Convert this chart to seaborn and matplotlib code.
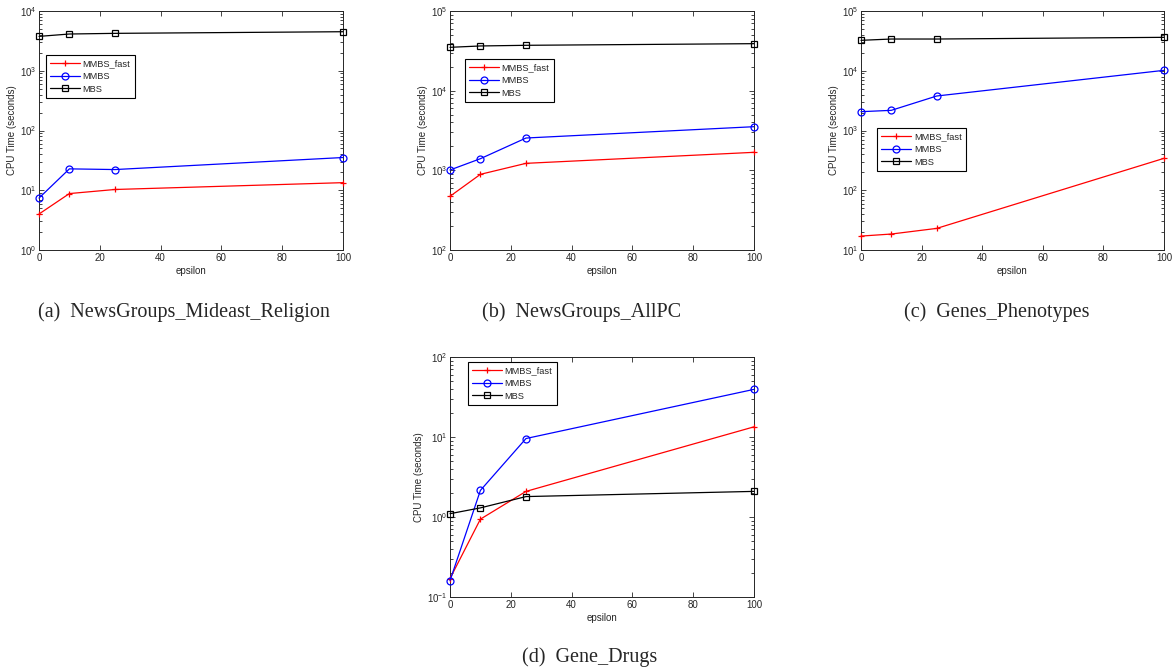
import numpy as np
import pandas as pd
import seaborn as sns
import matplotlib.pyplot as plt
from matplotlib.ticker import LogLocator, NullFormatter

# Data
epsilon = [0, 10, 25, 100]

mideast_fast = [4.0, 8.8, 10.3, 13.4]
mideast_mmbs = [7.4, 22.8, 22.2, 35.3]
mideast_mbs = [3760, 4120, 4225, 4500]

allpc_fast = [472, 891, 1224, 1683]
allpc_mmbs = [1010, 1400, 2545, 3530]
allpc_mbs = [35000, 36400, 37100, 38900]

pheno_fast = [17.1, 18.5, 23.0, 342]
pheno_mmbs = [2065, 2175, 3780, 10160]
pheno_mbs = [32300, 33960, 33960, 36250]

drugs_fast = [0.17, 0.94, 2.09, 13.4]
drugs_mmbs = [0.16, 2.15, 9.57, 39.4]
drugs_mbs = [1.10, 1.30, 1.80, 2.09]

captions = ['(a)  NewsGroups_Mideast_Religion', '(b)  NewsGroups_AllPC',
            '(c)  Genes_Phenotypes', '(d)  Gene_Drugs']

sns.set_style('ticks')
plt.rcParams['font.family'] = ['Liberation Sans', 'DejaVu Sans']
plt.rcParams['mathtext.fontset'] = 'custom'
plt.rcParams['mathtext.rm'] = 'Liberation Sans'
plt.rcParams['mathtext.it'] = 'Liberation Sans'

W, H = 1176, 668
fig = plt.figure(figsize=(W / 100, H / 100), dpi=100)


def rect(l, t, r, b):
    return [l / W, 1 - b / H, (r - l) / W, (b - t) / H]


panels = [
    (rect(39, 11, 343, 250), (1, 1e4), mideast_fast, mideast_mmbs, mideast_mbs, (0.023, 0.816)),
    (rect(450, 11, 754, 250), (1e2, 1e5), allpc_fast, allpc_mmbs, allpc_mbs, (0.049, 0.799)),
    (rect(861, 11, 1164, 250), (1e1, 1e5), pheno_fast, pheno_mmbs, pheno_mbs, (0.053, 0.51)),
    (rect(450, 357, 754, 597), (1e-1, 1e2), drugs_fast, drugs_mmbs, drugs_mbs, (0.059, 0.979)),
]

styles = [('MMBS_fast', 'red', '+'), ('MMBS', 'blue', 'o'), ('MBS', 'black', 's')]

for pos, ylim, fast, mmbs, mbs, leg_at in panels:
    ax = fig.add_axes(pos)
    df = pd.DataFrame({'epsilon': epsilon * 3,
                       'time': fast + mmbs + mbs,
                       'method': ['MMBS_fast'] * 4 + ['MMBS'] * 4 + ['MBS'] * 4})
    for name, color, marker in styles:
        sub = df[df['method'] == name]
        sns.lineplot(data=sub, x='epsilon', y='time', ax=ax, color=color, marker=marker,
                     markersize=5 if marker != 's' else 4, markerfacecolor='none',
                     markeredgecolor=color, markeredgewidth=0.9, linewidth=0.9,
                     label=name, clip_on=False, zorder=3)
    ax.set_yscale('log')
    ax.set_ylim(*ylim)
    ax.set_xlim(0, 100)
    ax.set_xticks([0, 20, 40, 60, 80, 100])
    ax.yaxis.set_major_locator(LogLocator(base=10, numticks=10))
    ax.yaxis.set_minor_locator(LogLocator(base=10, subs=np.arange(2, 10), numticks=10))
    ax.yaxis.set_minor_formatter(NullFormatter())
    ax.tick_params(which='both', direction='in', top=True, right=True, labelsize=7,
                   width=0.6, pad=2)
    ax.tick_params(which='major', length=3.5)
    ax.tick_params(which='minor', length=2)
    for s in ax.spines.values():
        s.set_linewidth(0.7)
    ax.set_xlabel('epsilon', fontsize=7, labelpad=2.5)
    ax.set_ylabel('CPU Time (seconds)', fontsize=7, labelpad=2)
    leg = ax.legend(loc='upper left', bbox_to_anchor=leg_at, fontsize=6.7, frameon=True,
                    fancybox=False, edgecolor='black', framealpha=1, borderpad=0.45,
                    handlelength=3.2, handletextpad=0.3, labelspacing=0.4,
                    borderaxespad=0)
    leg.get_frame().set_linewidth(0.8)

cap_pos = [(184, 317), (582, 317), (997, 317), (590, 662)]
for (cx, cy), text in zip(cap_pos, captions):
    fig.text(cx / W, 1 - cy / H, text, ha='center', va='baseline', fontsize=14.5,
             family='Liberation Serif')

fig.savefig('out.png', dpi=100)
